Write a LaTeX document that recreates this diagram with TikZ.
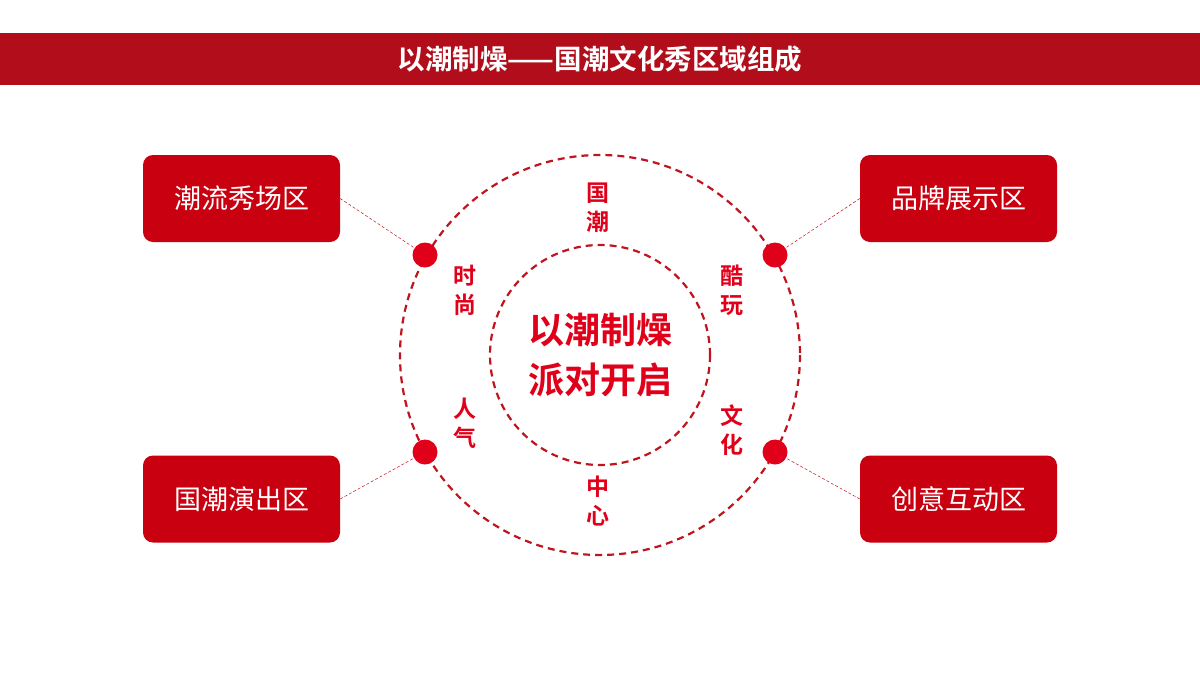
\documentclass[tikz,border=0pt]{standalone}
\usepackage{fontspec}
\setmainfont{Noto Sans CJK SC}
\newfontfamily\cjkb{Noto Sans CJK SC Bold}
\definecolor{bar}{HTML}{B20D1B}
\definecolor{rd}{HTML}{C8000F}
\definecolor{dt}{HTML}{E0001A}
\definecolor{ln}{HTML}{C0141E}
\begin{document}
\begin{tikzpicture}[x=1pt,y=-1pt,
 box/.style={fill=rd,rounded corners=10pt,minimum width=197pt,minimum height=87pt,inner sep=0pt,text=white,font=\fontsize{27}{27}\selectfont},
 dot/.style={circle,fill=dt,minimum size=25pt,inner sep=0pt},
 lab/.style={text=dt,font=\cjkb\fontsize{23}{29}\selectfont,align=center},
 conn/.style={ln,densely dashed,line width=0.5pt},
 ring/.style={ln,dashed,line width=2.2pt,dash pattern=on 7pt off 5pt}]
\useasboundingbox (0,0) rectangle (1200,675);
\fill[bar] (0,33) rectangle (1200,85);
\node[text=white,font=\cjkb\fontsize{27.5}{27.5}\selectfont] (title) at (600,59) {以潮制燥——国潮文化秀区域组成};
\draw[ring] (600,355) circle (200);
\draw[ring] (600,355) circle (110);
\node[lab,font=\cjkb\fontsize{36}{50}\selectfont] (c) at (600,355) {以潮制燥\\派对开启};
\node[dot] (d1) at (425,255) {};
\node[dot] (d2) at (775,255) {};
\node[dot] (d3) at (425,452) {};
\node[dot] (d4) at (775,452) {};
\node[box] (b1) at (241.5,198.5) {潮流秀场区};
\node[box] (b2) at (958.5,198.5) {品牌展示区};
\node[box] (b3) at (241.5,499) {国潮演出区};
\node[box] (b4) at (958.5,499) {创意互动区};
\draw[conn] (b1.east) -- (d1);
\draw[conn] (b2.west) -- (d2);
\draw[conn] (b3.east) -- (d3);
\draw[conn] (b4.west) -- (d4);
\node[lab] (l1) at (598,208) {国\\潮};
\node[lab] (l2) at (465,290) {时\\尚};
\node[lab] (l3) at (732,290) {酷\\玩};
\node[lab] (l4) at (465,423) {人\\气};
\node[lab] (l5) at (732,430) {文\\化};
\node[lab] (l6) at (598,501) {中\\心};
\end{tikzpicture}
\end{document}
